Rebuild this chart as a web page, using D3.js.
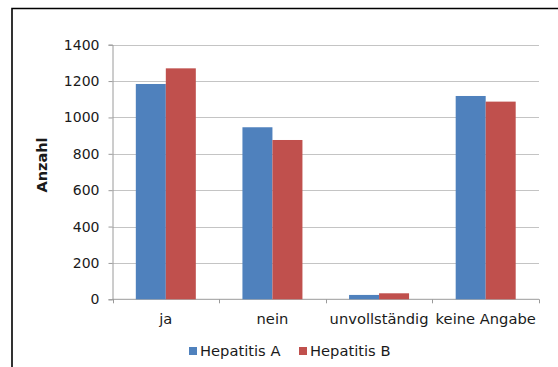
<!DOCTYPE html>
<html>
<head>
<meta charset="utf-8">
<script src="https://cdn.jsdelivr.net/npm/d3@7"></script>
<style>
  html, body { margin: 0; padding: 0; background: #fff; }
  svg { display: block; }
  text { font-family: "DejaVu Sans", Verdana, sans-serif; fill: #1a1a1a; }
</style>
</head>
<body>
<svg id="chart" width="558" height="367"></svg>
<script>
// Categories and series
const categories = ["ja", "nein", "unvollständig", "keine Angabe"];
const seriesNames = ["Hepatitis A", "Hepatitis B"];
const hepatitisA = [1184, 946, 24, 1118];
const hepatitisB = [1270, 876, 33, 1087];
const yTicks = [0, 200, 400, 600, 800, 1000, 1200, 1400];
const colors = ["#4F81BD", "#C0504D"];

const seriesValues = [hepatitisA, hepatitisB];
const rows = categories.map((c, i) => ({
  category: c,
  values: seriesNames.map((s, j) => ({ series: s, idx: j, value: seriesValues[j][i] }))
}));

const svg = d3.select("#chart");

// Chart frame
svg.append("path")
  .attr("d", "M12,367 L12,8.5 L558,8.5")
  .attr("fill", "none")
  .attr("stroke", "#000")
  .attr("stroke-width", 1.6);

const plot = { left: 112.5, right: 539, top: 44.7, bottom: 299.3 };

const x = d3.scaleBand()
  .domain(categories)
  .range([plot.left, plot.right])
  .paddingInner(0)
  .paddingOuter(0);

const groupWidth = 60;
const x1 = d3.scaleBand()
  .domain(seriesNames)
  .range([0, groupWidth]);

const y = d3.scaleLinear()
  .domain([0, 1400])
  .range([plot.bottom, plot.top]);

// Gridlines
svg.append("g")
  .selectAll("line")
  .data(yTicks.filter(t => t > 0))
  .join("line")
  .attr("x1", plot.left)
  .attr("x2", plot.right)
  .attr("y1", d => Math.round(y(d)) + 0.5)
  .attr("y2", d => Math.round(y(d)) + 0.5)
  .attr("stroke", "#c4c4c4")
  .attr("stroke-width", 1.2);

// Y axis
const yAxis = d3.axisLeft(y)
  .tickValues(yTicks)
  .tickSize(4)
  .tickPadding(9)
  .tickFormat(d3.format("d"));

const gy = svg.append("g")
  .attr("transform", `translate(${plot.left},0)`)
  .call(yAxis);
gy.select(".domain").attr("stroke", "#9a9a9a");
gy.selectAll(".tick line").attr("stroke", "#9a9a9a");
gy.selectAll(".tick text")
  .attr("font-size", 14)
  .attr("font-family", "DejaVu Sans, Verdana, sans-serif")
  .attr("fill", "#1a1a1a");

// X axis
const xAxis = d3.axisBottom(x)
  .tickSize(0)
  .tickPadding(14);
const gx = svg.append("g")
  .attr("transform", `translate(0,${plot.bottom})`)
  .call(xAxis);
gx.select(".domain").attr("stroke", "#9a9a9a").attr("d", `M${plot.left},0H${plot.right}`);
gx.selectAll(".tick text")
  .attr("font-size", 14.7)
  .attr("font-family", "DejaVu Sans, Verdana, sans-serif")
  .attr("fill", "#1a1a1a");

// Category boundary ticks
const boundaries = categories.map(c => x(c)).concat([plot.right]);
svg.append("g")
  .selectAll("line")
  .data(boundaries)
  .join("line")
  .attr("x1", d => Math.round(d) + 0.5)
  .attr("x2", d => Math.round(d) + 0.5)
  .attr("y1", plot.bottom)
  .attr("y2", plot.bottom + 4)
  .attr("stroke", "#9a9a9a");

// Bars
const groups = svg.append("g")
  .selectAll("g")
  .data(rows)
  .join("g")
  .attr("transform", d => `translate(${x(d.category) + (x.bandwidth() - groupWidth) / 2},0)`);

groups.selectAll("rect")
  .data(d => d.values)
  .join("rect")
  .attr("x", d => x1(d.series))
  .attr("width", x1.bandwidth())
  .attr("y", d => y(d.value))
  .attr("height", d => y(0) - y(d.value))
  .attr("fill", d => colors[d.idx]);

// Y axis title
svg.append("text")
  .attr("transform", "translate(47,165) rotate(-90)")
  .attr("text-anchor", "middle")
  .attr("font-size", 14.5)
  .attr("font-weight", "bold")
  .text("Anzahl");

// Legend
const legendItems = [
  { name: seriesNames[0], color: colors[0], x: 189 },
  { name: seriesNames[1], color: colors[1], x: 299 }
];
const lg = svg.append("g")
  .selectAll("g")
  .data(legendItems)
  .join("g")
  .attr("transform", d => `translate(${d.x},0)`);
lg.append("rect")
  .attr("x", 0)
  .attr("y", 347)
  .attr("width", 8)
  .attr("height", 8)
  .attr("fill", d => d.color);
lg.append("text")
  .attr("x", 11)
  .attr("y", 356)
  .attr("font-size", 14.7)
  .text(d => d.name);
</script>
</body>
</html>
